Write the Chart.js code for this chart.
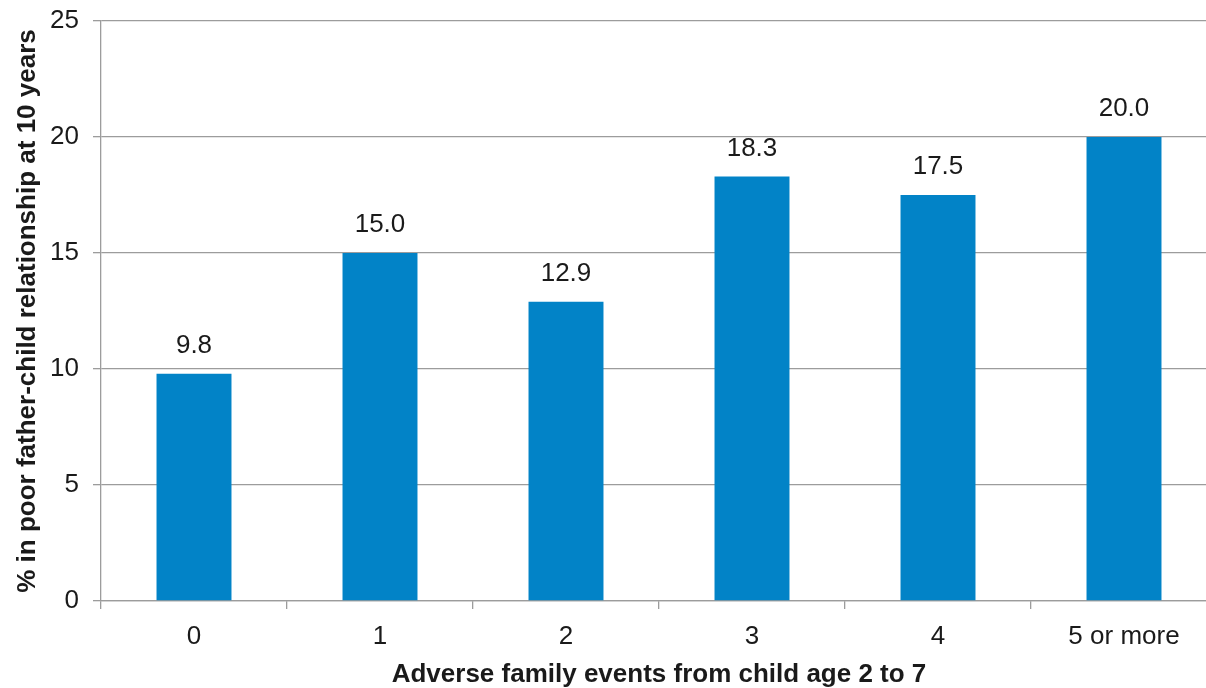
<!DOCTYPE html>
<html>
<head>
<meta charset="utf-8">
<script src="https://cdn.jsdelivr.net/npm/chart.js@4.4.1/dist/chart.umd.min.js"></script>
<style>
  html, body { margin: 0; padding: 0; background: #fff; overflow: hidden; }
  #wrap { width: 1218px; height: 688px; }
</style>
</head>
<body>
<div id="wrap"><canvas id="chart" width="1218" height="688"></canvas></div>
<script>
// ── Data ────────────────────────────────────────────────────────────────
const categories = ['0', '1', '2', '3', '4', '5 or more'];
const values = [9.8, 15.0, 12.9, 18.3, 17.5, 20.0];
const yTicks = [0, 5, 10, 15, 20, 25];

const FONT = "'Liberation Sans', Arial, Helvetica, sans-serif";
const GRID = '#9c9c9c';
const TEXT = '#1a1a1a';

// draws the value above each bar
const valueLabels = {
  id: 'valueLabels',
  afterDatasetsDraw(chart) {
    const ctx = chart.ctx;
    const meta = chart.getDatasetMeta(0);
    ctx.save();
    ctx.font = `26px ${FONT}`;
    ctx.fillStyle = TEXT;
    ctx.textAlign = 'center';
    ctx.textBaseline = 'middle';
    meta.data.forEach((bar, i) => {
      ctx.fillText(values[i].toFixed(1), bar.x, bar.y - 28);
    });
    ctx.restore();
  }
};

new Chart(document.getElementById('chart'), {
  type: 'bar',
  data: {
    labels: categories,
    datasets: [{
      data: values,
      backgroundColor: '#0283c7',
      barPercentage: 0.403,
      categoryPercentage: 1
    }]
  },
  options: {
    responsive: false,
    animation: false,
    layout: { padding: { top: 0, right: 1, left: 0, bottom: 0 } },
    plugins: { legend: { display: false }, tooltip: { enabled: false } },
    scales: {
      x: {
        offset: true,
        grid: { display: true, drawOnChartArea: false, offset: true, color: GRID, lineWidth: 1.3, tickLength: 8 },
        border: { color: GRID, width: 1.3 },
        ticks: { color: TEXT, font: { family: FONT, size: 26 }, padding: 12, maxRotation: 0 },
        title: {
          display: true,
          text: 'Adverse family events from child age 2 to 7',
          color: TEXT,
          font: { family: FONT, size: 26, weight: 'bold' },
          padding: { top: 0, bottom: -2 }
        },
        afterFit(scale) { scale.height = 87; }
      },
      y: {
        min: 0,
        max: 25,
        afterBuildTicks(scale) { scale.ticks = yTicks.map(v => ({ value: v })); },
        grid: { color: GRID, lineWidth: 1.3, tickLength: 8 },
        border: { color: GRID, width: 1.3 },
        ticks: { color: TEXT, font: { family: FONT, size: 26 }, padding: 14 },
        title: {
          display: true,
          text: '% in poor father-child relationship at 10 years',
          color: TEXT,
          font: { family: FONT, size: 26, weight: 'bold' },
          padding: { top: 12, bottom: 0 }
        },
        afterFit(scale) {
          scale.width = 101;
          scale.paddingTop = 21;
        }
      }
    }
  },
  plugins: [valueLabels]
});
</script>
</body>
</html>
